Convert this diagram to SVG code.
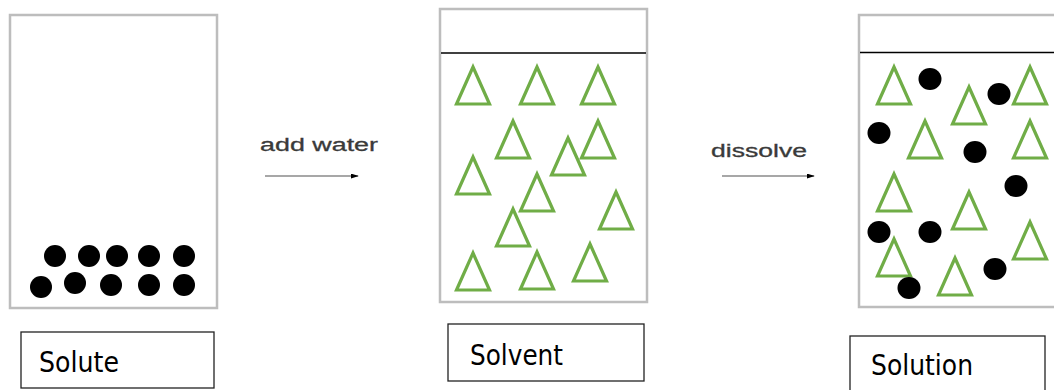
<svg xmlns="http://www.w3.org/2000/svg" width="1054" height="390" viewBox="0 0 1054 390">
<defs>
<style>
.beaker{fill:#fff;stroke:#bdbdbd;stroke-width:2.5}
.surface{stroke:#000;stroke-width:1.5}
.tri{fill:none;stroke:#70AD47;stroke-width:3.2;stroke-linejoin:miter}
.dot{fill:#000}
.lbl{fill:#fff;stroke:#222;stroke-width:1.3}
.lbltxt{font-family:"DejaVu Sans","Liberation Sans",sans-serif;font-size:29px;fill:#000}
.steptxt{font-family:"Liberation Sans",Arial,sans-serif;font-size:18px;fill:#3a3a3a;stroke:#3a3a3a;stroke-width:0.3}
.conn{stroke:#8a8a8a;stroke-width:1.5;fill:none}
</style>
<marker id="ah" viewBox="0 0 10 10" refX="9" refY="5" markerWidth="8" markerHeight="5" markerUnits="userSpaceOnUse" orient="auto" preserveAspectRatio="none">
<path d="M0,0 L10,5 L0,10 Z" fill="#000"/>
</marker>
<path id="t" d="M0,0 L16.5,37 L-16.5,37 Z"/>
</defs>

<g id="solute-beaker">
<rect class="beaker" x="10" y="15" width="207" height="293"/>
<circle class="dot" cx="55" cy="256" r="11"/>
<circle class="dot" cx="89" cy="256" r="11"/>
<circle class="dot" cx="117" cy="256" r="11"/>
<circle class="dot" cx="149" cy="256" r="11"/>
<circle class="dot" cx="184" cy="256" r="11"/>
<circle class="dot" cx="41" cy="287" r="11"/>
<circle class="dot" cx="75" cy="283" r="11"/>
<circle class="dot" cx="111" cy="285" r="11"/>
<circle class="dot" cx="149" cy="285" r="11"/>
<circle class="dot" cx="184" cy="285" r="11"/>
</g>

<g id="solvent-beaker">
<rect class="beaker" x="440" y="9" width="207" height="293"/>
<line class="surface" x1="441" y1="53" x2="646" y2="53"/>
<use href="#t" class="tri" x="473" y="67"/>
<use href="#t" class="tri" x="537" y="67"/>
<use href="#t" class="tri" x="598" y="67"/>
<use href="#t" class="tri" x="513" y="121"/>
<use href="#t" class="tri" x="598" y="121"/>
<use href="#t" class="tri" x="568" y="138"/>
<use href="#t" class="tri" x="473" y="157"/>
<use href="#t" class="tri" x="537" y="174"/>
<use href="#t" class="tri" x="616" y="192"/>
<use href="#t" class="tri" x="513" y="209"/>
<use href="#t" class="tri" x="473" y="253"/>
<use href="#t" class="tri" x="537" y="252"/>
<use href="#t" class="tri" x="590" y="244"/>
</g>

<g id="solution-beaker">
<rect class="beaker" x="859" y="15" width="210" height="292"/>
<line class="surface" x1="860" y1="52.5" x2="1054" y2="52.5"/>
<use href="#t" class="tri" x="894" y="67"/>
<use href="#t" class="tri" x="969" y="87"/>
<use href="#t" class="tri" x="1030" y="67"/>
<use href="#t" class="tri" x="925" y="121"/>
<use href="#t" class="tri" x="1030" y="121"/>
<use href="#t" class="tri" x="894" y="174"/>
<use href="#t" class="tri" x="969" y="192"/>
<use href="#t" class="tri" x="1030" y="222"/>
<use href="#t" class="tri" x="894" y="239"/>
<use href="#t" class="tri" x="955" y="258"/>
<ellipse class="dot" cx="930" cy="79" rx="11.5" ry="11"/>
<ellipse class="dot" cx="999" cy="94" rx="11.5" ry="11"/>
<ellipse class="dot" cx="879" cy="133" rx="11.5" ry="11"/>
<ellipse class="dot" cx="975" cy="152" rx="11.5" ry="11"/>
<ellipse class="dot" cx="1016" cy="186" rx="11.5" ry="11"/>
<ellipse class="dot" cx="879" cy="232" rx="11.5" ry="11"/>
<ellipse class="dot" cx="930" cy="232" rx="11.5" ry="11"/>
<ellipse class="dot" cx="995" cy="269" rx="11.5" ry="11"/>
<ellipse class="dot" cx="909" cy="288" rx="11.5" ry="11"/>
</g>

<g id="connectors">
<line class="conn" x1="265" y1="176" x2="358" y2="176" marker-end="url(#ah)"/>
<line class="conn" x1="722" y1="176" x2="814" y2="176" marker-end="url(#ah)"/>
<text class="steptxt" x="260" y="151" textLength="118" lengthAdjust="spacingAndGlyphs">add water</text>
<text class="steptxt" x="711" y="157" textLength="96" lengthAdjust="spacingAndGlyphs">dissolve</text>
</g>

<g id="label-solute">
<rect class="lbl" x="21" y="332" width="193" height="56"/>
<text class="lbltxt" x="39" y="372" textLength="80" lengthAdjust="spacingAndGlyphs">Solute</text>
</g>
<g id="label-solvent">
<rect class="lbl" x="448" y="324" width="196" height="57"/>
<text class="lbltxt" x="470" y="365" textLength="93" lengthAdjust="spacingAndGlyphs">Solvent</text>
</g>
<g id="label-solution">
<rect class="lbl" x="850" y="336" width="195" height="60"/>
<text class="lbltxt" x="871" y="375" textLength="102" lengthAdjust="spacingAndGlyphs">Solution</text>
</g>
</svg>
